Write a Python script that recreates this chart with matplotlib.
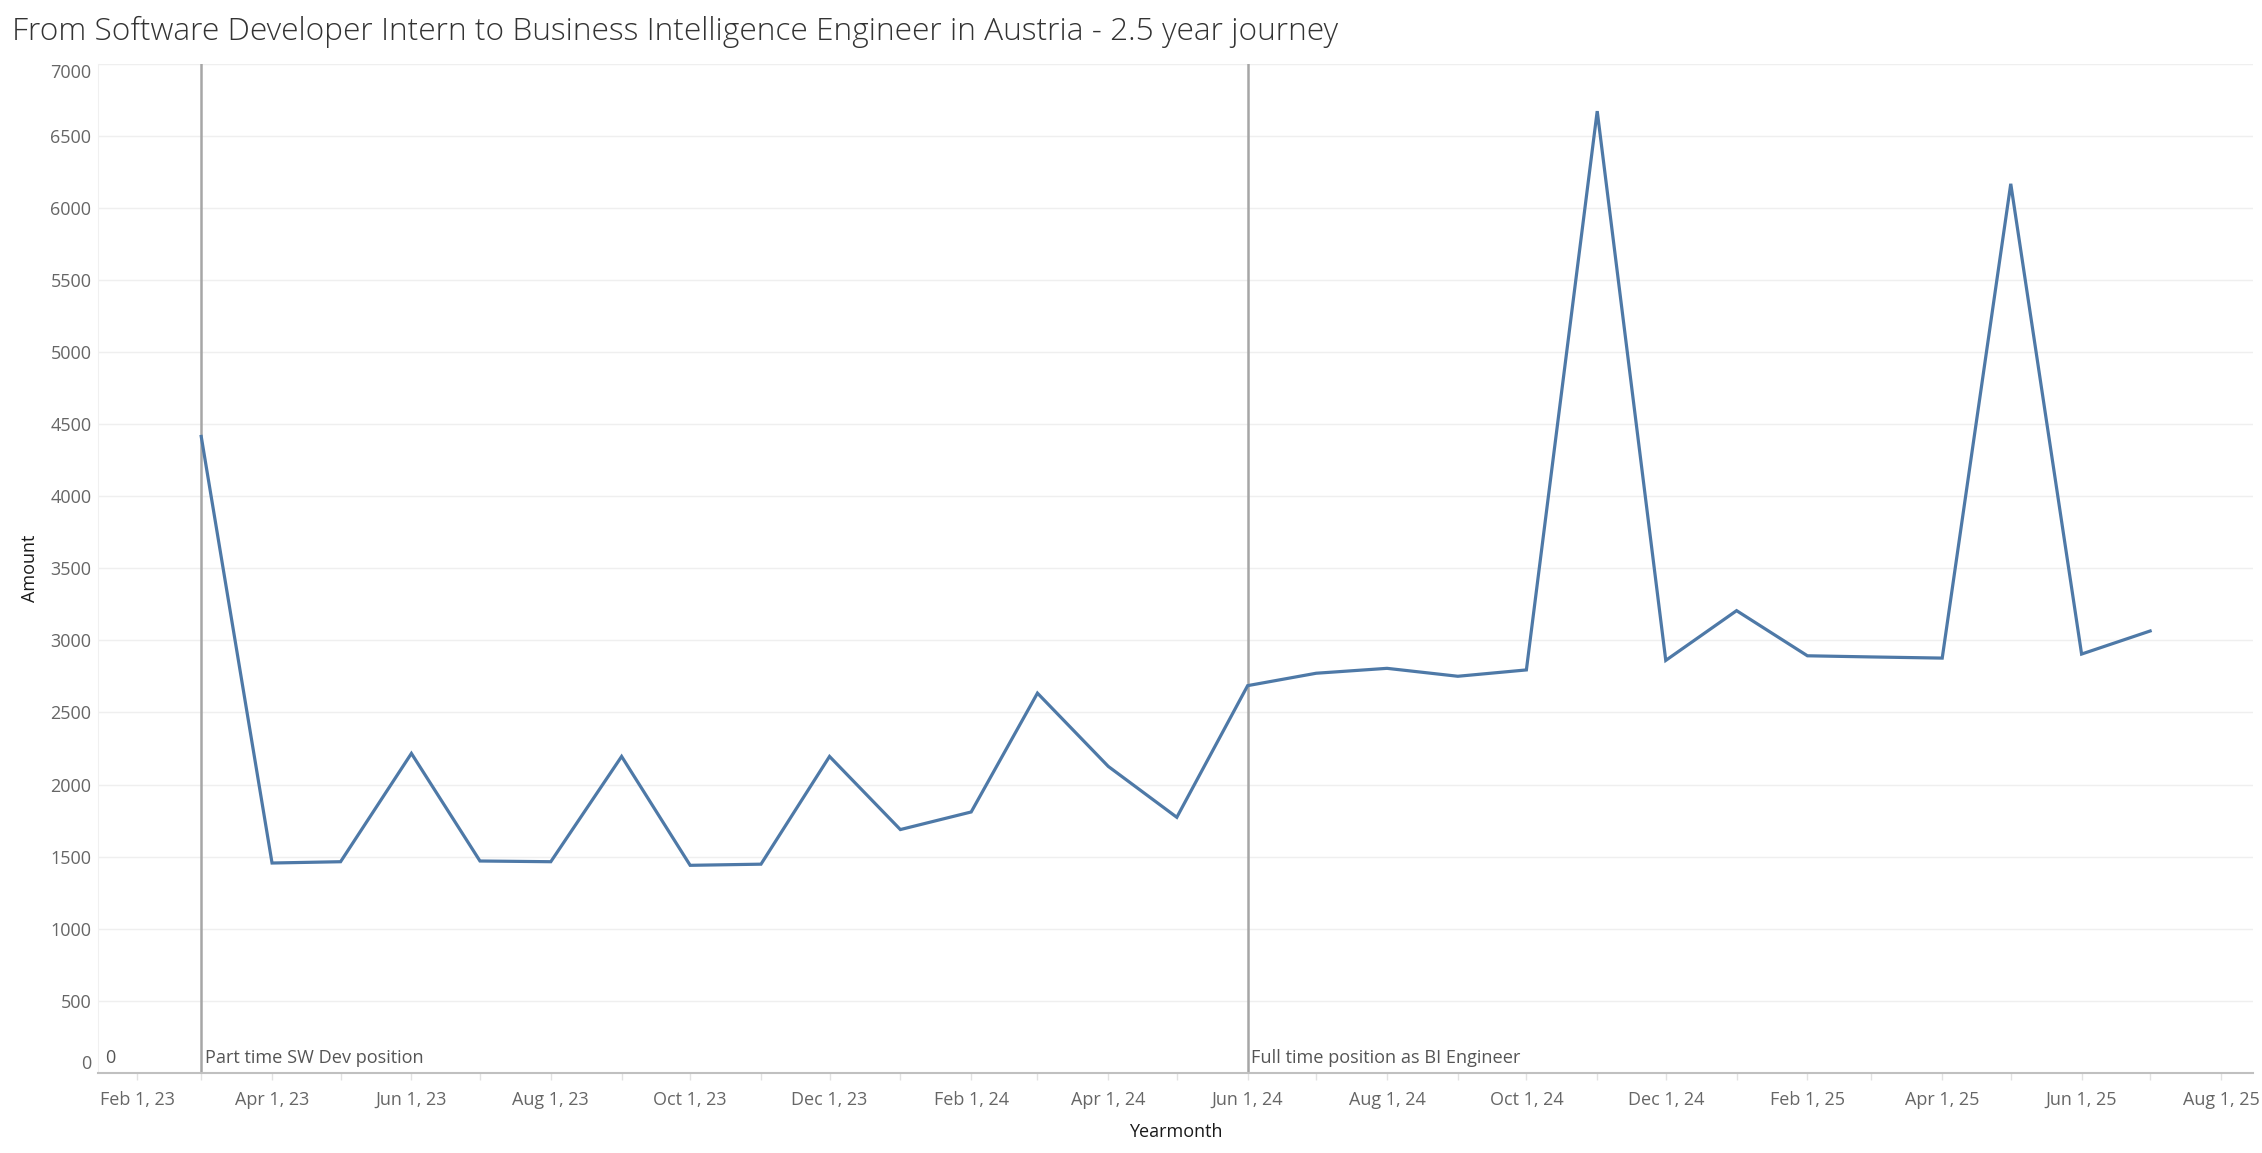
import matplotlib
matplotlib.use("Agg")
import matplotlib.pyplot as plt
import matplotlib.dates as mdates
import pandas as pd

# ---- data ----
months = ["2023-03", "2023-04", "2023-05", "2023-06", "2023-07", "2023-08", "2023-09",
          "2023-10", "2023-11", "2023-12", "2024-01", "2024-02", "2024-03", "2024-04",
          "2024-05", "2024-06", "2024-07", "2024-08", "2024-09", "2024-10", "2024-11",
          "2024-12", "2025-01", "2025-02", "2025-03", "2025-04", "2025-05", "2025-06",
          "2025-07"]
amount = [4414, 1456, 1465, 2216, 1470, 1465, 2195, 1440, 1448, 2195, 1688, 1810,
          2634, 2126, 1773, 2686, 2772, 2806, 2751, 2795, 6670, 2861, 3206, 2893,
          2885, 2877, 6166, 2905, 3065]
ref_dates = ["2023-03-01", "2024-06-01"]
ref_labels = ["Part time SW Dev position", "Full time position as BI Engineer"]
title = "From Software Developer Intern to Business Intelligence Engineer in Austria - 2.5 year journey"
y_ticks = [0, 500, 1000, 1500, 2000, 2500, 3000, 3500, 4000, 4500, 5000, 5500, 6000, 6500, 7000]

dates = pd.to_datetime(months)

plt.rcParams['font.family'] = ['Open Sans', 'DejaVu Sans']

fig = plt.figure(figsize=(22.62, 11.53), dpi=100)
ax = fig.add_axes([0.0435, 0.0694, 0.9525, 0.8755])

ax.plot(dates, amount, color="#4e79a7", lw=2.3, solid_joinstyle='miter', zorder=3)

for d, lab in zip(ref_dates, ref_labels):
    dt = pd.Timestamp(d)
    ax.axvline(dt, color="#a6a6a6", lw=1.8, zorder=2)
    ax.text(dt + pd.Timedelta(days=1.5), 40, lab, fontsize=13.1, color="#555555",
            ha='left', va='bottom', zorder=4)
ax.text(pd.Timestamp("2023-01-18"), 40, "0", fontsize=13.1, color="#555555",
        ha='left', va='bottom')

ax.set_xlim(pd.Timestamp("2023-01-15"), pd.Timestamp("2025-08-15"))
ax.set_ylim(0, 7000)
ax.set_yticks(y_ticks)
ax.yaxis.grid(True, color="#efefef", lw=1.0)
ax.set_axisbelow(True)

ax.xaxis.set_major_locator(mdates.MonthLocator(bymonth=[2, 4, 6, 8, 10, 12]))
ax.xaxis.set_minor_locator(mdates.MonthLocator())
ax.xaxis.set_major_formatter(mdates.DateFormatter('%b %-d, %y'))

ax.tick_params(axis='x', which='both', colors="#e2e2e2", length=5, width=1, pad=8,
               labelcolor="#666666", labelsize=13)
ax.tick_params(axis='y', length=0, pad=5, labelcolor="#666666", labelsize=13)

for sp in ['top', 'right']:
    ax.spines[sp].set_visible(False)
ax.spines['left'].set_color("#f0f0f0")
ax.spines['bottom'].set_color("#c0c0c0")
ax.spines['bottom'].set_linewidth(1.5)

yt = ax.yaxis.get_major_ticks()
yt[0].label1.set_va('bottom')
yt[-1].label1.set_va('top')

ax.set_ylabel("Amount", fontsize=13, color="#1a1a1a", labelpad=8)
ax.set_xlabel("Yearmonth", fontsize=13, color="#1a1a1a", labelpad=10)

fig.text(0.0055, 0.986, title, fontsize=22.8, color="#333333", ha='left', va='top',
         fontweight='light')

fig.savefig("out.png", dpi=100, facecolor='white')
